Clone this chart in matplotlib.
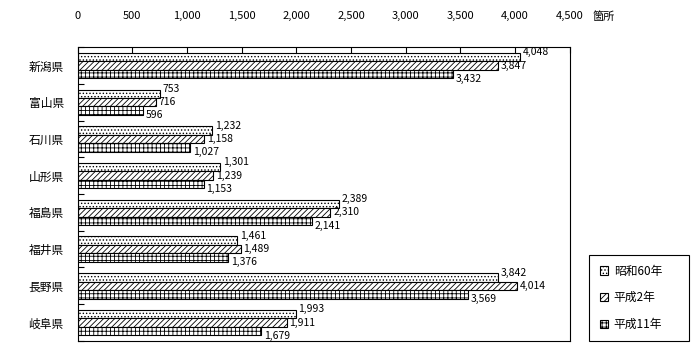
import matplotlib as mpl
import numpy as np

mpl.use('agg')

import matplotlib.pyplot as plt

plt.rcParams['font.family'] = ['Noto Sans CJK JP', 'DejaVu Sans']
plt.rcParams['hatch.linewidth'] = 0.6

prefectures = ['新潟県', '富山県', '石川県', '山形県', '福島県', '福井県', '長野県', '岐阜県']
series_names = ['昭和60年', '平成2年', '平成11年']
s60 = [4048, 753, 1232, 1301, 2389, 1461, 3842, 1993]
h2 = [3847, 716, 1158, 1239, 2310, 1489, 4014, 1911]
h11 = [3432, 596, 1027, 1153, 2141, 1376, 3569, 1679]
x_ticks = [0, 500, 1000, 1500, 2000, 2500, 3000, 3500, 4000, 4500]

series = [s60, h2, h11]
hatches = ['.....', '//////', '++++']

fig = plt.figure(figsize=(7, 3.6), dpi=100)
ax = fig.add_axes([0.111, 0.053, 0.703, 0.816])

y = np.arange(len(prefectures))
h = 0.23
offsets = [-h, 0, h]
label_off = [-0.36, 0, 0.36]

for vals, off, hat, name, loff in zip(series, offsets, hatches, series_names, label_off):
    ax.barh(y + off, vals, height=h, color='white', edgecolor='black',
            hatch=hat, linewidth=0.8, label=name)
    for yi, v in zip(y, vals):
        ax.annotate(f'{v:,}', (v, yi + loff), xytext=(2, 0), textcoords='offset points',
                    va='center', ha='left', fontsize=7.5)

ax.set_xlim(0, 4500)
ax.set_ylim(len(prefectures) - 0.5, -0.5)
ax.xaxis.tick_top()
ax.set_xticks(x_ticks)
ax.set_xticklabels([f'{t:,}' for t in x_ticks], fontsize=8)
ax.tick_params(axis='x', direction='in', length=4, pad=19, width=0.8)
ax.set_yticks(y)
ax.set_yticklabels(prefectures, fontsize=8.5)
ax.tick_params(axis='y', which='major', length=0, pad=10)
ax.set_yticks(np.arange(len(prefectures) + 1) - 0.5, minor=True)
ax.tick_params(axis='y', which='minor', direction='in', length=4, width=0.8)
for s in ax.spines.values():
    s.set_linewidth(0.8)

fig.text(0.863, 0.955, '箇所', fontsize=8, va='center', ha='center')

leg = ax.legend(loc='lower left', bbox_to_anchor=(1.04, 0.0, 0.203, 0.3), mode='expand',
                fontsize=8.5, handlelength=0.7, handleheight=0.7, handletextpad=0.5,
                labelspacing=1.15, borderpad=0.85, borderaxespad=0,
                fancybox=False, edgecolor='black', framealpha=1)
leg.get_frame().set_linewidth(0.8)

fig.savefig('out.png', dpi=100)
